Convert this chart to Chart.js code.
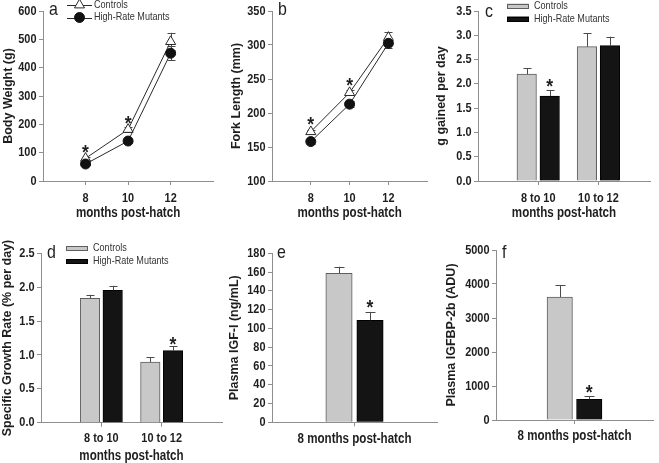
<!DOCTYPE html>
<html><head><meta charset="utf-8">
<script src="https://cdn.jsdelivr.net/npm/chart.js@4.4.1/dist/chart.umd.min.js"></script>
<style>
html,body{margin:0;padding:0;background:#fff;width:659px;height:463px;overflow:hidden}
#fig{position:relative;width:659px;height:463px}
.p{position:absolute}
</style></head><body><div id="fig">
<div class="p" style="left:0px;top:0px;width:220px;height:232px"><canvas id="ca"></canvas></div>
<div class="p" style="left:222px;top:0px;width:212px;height:232px"><canvas id="cb"></canvas></div>
<div class="p" style="left:432px;top:0px;width:220px;height:232px"><canvas id="cc"></canvas></div>
<div class="p" style="left:0px;top:232px;width:224px;height:231px"><canvas id="cd"></canvas></div>
<div class="p" style="left:222px;top:232px;width:217px;height:231px"><canvas id="ce"></canvas></div>
<div class="p" style="left:437px;top:232px;width:218px;height:231px"><canvas id="cf"></canvas></div>
</div>
<script>
// ---------------- DATA ----------------
const seriesNames = ['Controls', 'High-Rate Mutants'];

const months = [8, 10, 12];
const monthLabels = ['8', '10', '12'];

const bodyWeightControls = [80, 182, 492];
const bodyWeightControlsSE = [6, 9, 31];
const bodyWeightMutants = [60, 141, 451];
const bodyWeightMutantsSE = [5, 8, 24];
const bodyWeightSig = [true, true, false];

const forkLengthControls = [172.5, 230, 311];
const forkLengthControlsSE = [3, 4, 8.6];
const forkLengthMutants = [158, 213, 302.5];
const forkLengthMutantsSE = [3, 4, 6.5];
const forkLengthSig = [true, true, false];

const intervals = ['8 to 10', '10 to 12'];

const gainControls = [2.2, 2.765];
const gainControlsSE = [0.12, 0.28];
const gainMutants = [1.75, 2.786];
const gainMutantsSE = [0.12, 0.185];
const gainSig = [true, false];

const sgrControls = [1.836, 0.896];
const sgrControlsSE = [0.05, 0.07];
const sgrMutants = [1.954, 1.063];
const sgrMutantsSE = [0.066, 0.064];
const sgrSig = [false, true];

const sampling = ['8 months post-hatch'];

const igfControls = [158.7];
const igfControlsSE = [7];
const igfMutants = [108.6];
const igfMutantsSE = [9];
const igfSig = [true];

const bp2Controls = [3618];
const bp2ControlsSE = [343];
const bp2Mutants = [608];
const bp2MutantsSE = [98];
const bp2Sig = [true];

// ---------------- STYLE ----------------
const TXT = '#1e1e1e', AXC = '#8e8e8e', ERRC = '#4a4a4a';
const REG = '"Liberation Sans",Arial,Helvetica,sans-serif';
// The reference figure's horizontal text is condensed; emulate by squeezing
// un-rotated text horizontally about its anchor point.
const SQ = 0.84;
(function () {
  const P = CanvasRenderingContext2D.prototype;
  const orig = P.fillText;
  P.fillText = function (text, x, y, maxWidth) {
    const t = this.getTransform();
    if (Math.abs(t.b) > 1e-6 || Math.abs(t.c) > 1e-6) {
      return maxWidth === undefined ? orig.call(this, text, x, y) : orig.call(this, text, x, y, maxWidth);
    }
    this.save();
    this.translate(x, y);
    this.scale(SQ, 1);
    if (maxWidth === undefined) orig.call(this, text, 0, 0); else orig.call(this, text, 0, 0, maxWidth / SQ);
    this.restore();
  };
})();

const tickFont = {family: REG, size: 13, weight: 'bold'};
const xTitleFont = {family: REG, size: 13.8, weight: 'bold', lineHeight: 1};
const catTitleFont = {family: REG, size: 13.8, weight: 'bold'};
const yTitleFont = {family: REG, size: 12.5, weight: 'bold'};
const legendSize = 10.8, letterSize = 19;
const GREY = '#c8c8c8', GREYB = '#5e5e5e', BLACK = '#141414';

// ---------------- PLUGINS ----------------
function drawMarker(ctx, style, x, y, r, fill, stroke) {
  ctx.beginPath();
  if (style === 'triangle') {
    let a = 0;
    ctx.moveTo(x + Math.sin(a) * r, y - Math.cos(a) * r);
    a += 2 * Math.PI / 3; ctx.lineTo(x + Math.sin(a) * r, y - Math.cos(a) * r);
    a += 2 * Math.PI / 3; ctx.lineTo(x + Math.sin(a) * r, y - Math.cos(a) * r);
    ctx.closePath();
  } else {
    ctx.arc(x, y, r, 0, Math.PI * 2);
  }
  ctx.fillStyle = fill; ctx.fill();
  ctx.strokeStyle = stroke; ctx.lineWidth = 1; ctx.stroke();
}

function drawErrors(chart, o) {
  const ctx = chart.ctx, ys = chart.scales.y;
  ctx.save();
  ctx.strokeStyle = ERRC; ctx.lineWidth = 1;
  chart.data.datasets.forEach((ds, di) => {
    const meta = chart.getDatasetMeta(di);
    meta.data.forEach((el, i) => {
      const v = ds.data[i].y, e = ds.errors[i];
      const x = Math.round(el.x) + 0.5;
      const yt = ys.getPixelForValue(v + e);
      const yb = o.both ? ys.getPixelForValue(v - e) : el.y;
      ctx.beginPath();
      ctx.moveTo(x, yb); ctx.lineTo(x, yt);
      ctx.moveTo(x - o.cap / 2, Math.round(yt) + 0.5); ctx.lineTo(x + o.cap / 2, Math.round(yt) + 0.5);
      if (o.both) { ctx.moveTo(x - o.cap / 2, Math.round(yb) + 0.5); ctx.lineTo(x + o.cap / 2, Math.round(yb) + 0.5); }
      ctx.stroke();
    });
  });
  ctx.restore();
}

const errorBars = {
  id: 'errorBars',
  beforeDatasetsDraw(chart, a, o) { if (o.under) drawErrors(chart, o); },
  afterDatasetsDraw(chart, a, o) { if (!o.under) drawErrors(chart, o); }
};

const stars = {
  id: 'stars',
  afterDatasetsDraw(chart, a, o) {
    const ctx = chart.ctx, ys = chart.scales.y;
    ctx.save();
    ctx.fillStyle = TXT; ctx.font = 'bold 21px ' + REG;
    ctx.textAlign = 'center'; ctx.textBaseline = 'alphabetic';
    o.sig.forEach((s, i) => {
      if (!s) return;
      let top = Infinity, x = 0;
      o.over.forEach(di => {
        const ds = chart.data.datasets[di];
        const el = chart.getDatasetMeta(di).data[i];
        const yt = ys.getPixelForValue(ds.data[i].y + ds.errors[i]);
        top = Math.min(top, yt, el.y - (ds.pointRadius || 0));
        x = el.x;
      });
      const cy = top - o.gap;
      ctx.fillText('*', x, cy + 0.58 * 21);
    });
    ctx.restore();
  }
};

const figLegend = {
  id: 'figLegend',
  afterDraw(chart, a, o) {
    if (!o.show) return;
    const ctx = chart.ctx;
    ctx.save();
    ctx.font = legendSize + 'px ' + REG;
    ctx.textBaseline = 'middle'; ctx.textAlign = 'left';
    chart.data.datasets.slice().sort((p, q) => p.legendIndex - q.legendIndex).forEach((ds, i) => {
      const y = o.y + i * o.dy - o.off[1];
      const x0 = o.x - o.off[0];
      if (o.kind === 'line') {
        ctx.strokeStyle = ds.borderColor; ctx.lineWidth = 1;
        ctx.beginPath(); ctx.moveTo(x0, Math.round(y) + 0.5); ctx.lineTo(x0 + o.w, Math.round(y) + 0.5); ctx.stroke();
        drawMarker(ctx, ds.pointStyle, x0 + o.w / 2, y, ds.pointRadius, ds.pointBackgroundColor, ds.pointBorderColor);
      } else {
        ctx.fillStyle = ds.backgroundColor; ctx.strokeStyle = ds.borderColor; ctx.lineWidth = 1;
        ctx.fillRect(x0, y - o.h / 2, o.w, o.h);
        ctx.strokeRect(x0 + 0.5, Math.round(y - o.h / 2) + 0.5, o.w - 1, o.h - 1);
      }
      ctx.fillStyle = '#333';
      ctx.fillText(ds.label, o.tx - o.off[0], y);
    });
    ctx.restore();
  }
};

const letter = {
  id: 'letter',
  afterDraw(chart, a, o) {
    const ctx = chart.ctx;
    ctx.save();
    ctx.font = letterSize + 'px ' + REG; ctx.fillStyle = TXT;
    ctx.textBaseline = 'alphabetic'; ctx.textAlign = 'left';
    ctx.fillText(o.text, o.x - o.off[0], o.y - o.off[1]);
    ctx.restore();
  }
};

// ---------------- BUILDERS ----------------
function yScale(o) {
  return {
    type: 'linear', position: 'left', min: o.min, max: o.max,
    ticks: { stepSize: o.step, color: TXT, font: tickFont, padding: 2.5,
             callback: v => o.dec ? Number(v).toFixed(o.dec) : String(v) },
    grid: { drawOnChartArea: false, tickLength: 4, color: AXC },
    border: { color: AXC, width: 1 },
    title: { display: true, text: o.title, color: TXT, font: yTitleFont, padding: {top: o.tpad, bottom: 0} },
    afterFit: s => { s.width = o.width; }
  };
}
function xScale(o) {
  return {
    type: 'linear', position: 'bottom', min: o.min, max: o.max, offset: false,
    afterBuildTicks: s => { s.ticks = o.pos.map(v => ({value: v})); },
    ticks: { autoSkip: false, maxRotation: 0, minRotation: 0, color: TXT, font: o.font || tickFont, padding: o.tickPad,
             callback: v => { const k = o.pos.indexOf(v); return k >= 0 ? o.labels[k] : ''; } },
    grid: { drawOnChartArea: false, tickLength: 4, color: AXC, offset: false },
    border: { color: AXC, width: 1 },
    title: o.title ? { display: true, text: o.title, color: TXT, font: xTitleFont, padding: {top: 0, bottom: o.titlePad} } : { display: false },
    afterFit: s => { s.height = o.height; }
  };
}
function lineSets(xs, c, cse, m, mse) {
  return [
    { label: seriesNames[1], legendIndex: 1, data: xs.map((x, i) => ({x, y: m[i]})), errors: mse,
      borderColor: '#2a2a2a', borderWidth: 1, pointStyle: 'circle', pointRadius: 5,
      pointBackgroundColor: '#111', pointBorderColor: '#111', pointBorderWidth: 1, order: 0 },
    { label: seriesNames[0], legendIndex: 0, data: xs.map((x, i) => ({x, y: c[i]})), errors: cse,
      borderColor: '#2a2a2a', borderWidth: 1, pointStyle: 'triangle', pointRadius: 5.8,
      pointBackgroundColor: '#fff', pointBorderColor: '#2a2a2a', pointBorderWidth: 1, order: 1 }
  ];
}
function barSets(cats, c, cse, m, mse, bt, mbt) {
  const xs = cats.map((_, i) => i + 1);
  return [
    { label: seriesNames[0], legendIndex: 0, data: xs.map((x, i) => ({x, y: c[i]})), errors: cse,
      backgroundColor: GREY, borderColor: GREYB, borderWidth: 1, borderSkipped: 'bottom',
      barThickness: bt, maxBarThickness: mbt },
    { label: seriesNames[1], legendIndex: 1, data: xs.map((x, i) => ({x, y: m[i]})), errors: mse,
      backgroundColor: BLACK, borderColor: '#000', borderWidth: 1, borderSkipped: 'bottom',
      barThickness: bt, maxBarThickness: mbt }
  ];
}
function make(id, type, datasets, p) {
  return new Chart(document.getElementById(id), {
    type,
    data: { datasets },
    options: {
      responsive: true, maintainAspectRatio: false, animation: false, devicePixelRatio: 1, events: [],
      layout: { padding: { left: 0, top: p.padTop, right: 2, bottom: 0 } },
      scales: { x: xScale(p.x), y: yScale(p.y) },
      plugins: {
        legend: { display: false }, tooltip: { enabled: false },
        errorBars: p.err, stars: p.stars, figLegend: p.legend || { show: false }, letter: p.letter
      }
    },
    plugins: [errorBars, stars, figLegend, letter]
  });
}

// ---------------- PANELS ----------------
make('ca', 'line', lineSets(months, bodyWeightControls, bodyWeightControlsSE, bodyWeightMutants, bodyWeightMutantsSE), {
  padTop: 11,
  x: { min: 6, max: 14, pos: months, labels: monthLabels, tickPad: 5.5, title: 'months post-hatch', titlePad: 11.5, height: 51 },
  y: { min: 0, max: 600, step: 100, title: 'Body Weight (g)', width: 43, tpad: 1 },
  err: { under: true, both: true, cap: 8 },
  stars: { sig: bodyWeightSig, over: [1], gap: 6 },
  legend: { show: true, kind: 'line', x: 67, w: 25, tx: 94, y: 5, dy: 12.5, off: [0, 0] },
  letter: { text: 'a', x: 49, y: 14.5, off: [0, 0] }
});
make('cb', 'line', lineSets(months, forkLengthControls, forkLengthControlsSE, forkLengthMutants, forkLengthMutantsSE), {
  padTop: 11,
  x: { min: 6, max: 14, pos: months, labels: monthLabels, tickPad: 5.5, title: 'months post-hatch', titlePad: 11.5, height: 51 },
  y: { min: 100, max: 350, step: 50, title: 'Fork Length (mm)', width: 50, tpad: 7.5 },
  err: { under: true, both: true, cap: 8 },
  stars: { sig: forkLengthSig, over: [1], gap: 7 },
  letter: { text: 'b', x: 278, y: 15, off: [222, 0] }
});
make('cc', 'bar', barSets(intervals, gainControls, gainControlsSE, gainMutants, gainMutantsSE, 23, 19.5), {
  padTop: 11,
  x: { min: 0, max: 2.857, pos: [1, 2], labels: intervals, tickPad: 5.5, title: 'months post-hatch', titlePad: 11.5, height: 51 },
  y: { min: 0, max: 3.5, step: 0.5, dec: 1, title: 'g gained per day', width: 46, tpad: 2.2 },
  err: { under: false, both: false, cap: 8 },
  stars: { sig: gainSig, over: [1], gap: 9 },
  legend: { show: true, kind: 'box', x: 507, w: 22, h: 5, tx: 534, y: 6, dy: 13, off: [432, 0] },
  letter: { text: 'c', x: 485, y: 16.5, off: [432, 0] }
});
make('cd', 'bar', barSets(intervals, sgrControls, sgrControlsSE, sgrMutants, sgrMutantsSE, 22.7, 19.5), {
  padTop: 21.3,
  x: { min: 0, max: 3, pos: [1, 2], labels: intervals, tickPad: 3.5, title: 'months post-hatch', titlePad: 0, height: 40.3 },
  y: { min: 0, max: 2.5, step: 0.5, dec: 1, title: 'Specific Growth Rate (% per day)', width: 41, tpad: 0.5 },
  err: { under: false, both: false, cap: 8 },
  stars: { sig: sgrSig, over: [1], gap: 8 },
  legend: { show: true, kind: 'box', x: 66, w: 22, h: 5, tx: 93, y: 248.5, dy: 13, off: [0, 232] },
  letter: { text: 'd', x: 47, y: 258, off: [0, 232] }
});
make('ce', 'bar', barSets(sampling, igfControls, igfControlsSE, igfMutants, igfMutantsSE, 31, 26.4), {
  padTop: 21.3,
  x: { min: 0, max: 2, pos: [1], labels: sampling, font: catTitleFont, tickPad: 4.2, title: null, height: 40.7 },
  y: { min: 0, max: 180, step: 20, title: 'Plasma IGF-I (ng/mL)', width: 50, tpad: 5.5 },
  err: { under: false, both: false, cap: 10 },
  stars: { sig: igfSig, over: [1], gap: 10 },
  letter: { text: 'e', x: 277, y: 258, off: [222, 232] }
});
make('cf', 'bar', barSets(sampling, bp2Controls, bp2ControlsSE, bp2Mutants, bp2MutantsSE, 29.5, 25.4), {
  padTop: 18,
  x: { min: 0, max: 2, pos: [1], labels: sampling, font: catTitleFont, tickPad: 3.5, title: null, height: 43 },
  y: { min: 0, max: 5000, step: 1000, title: 'Plasma IGFBP-2b (ADU)', width: 59, tpad: 7.2 },
  err: { under: false, both: false, cap: 10 },
  stars: { sig: bp2Sig, over: [1], gap: 9 },
  letter: { text: 'f', x: 502, y: 258, off: [437, 232] }
});
</script>
</body></html>
